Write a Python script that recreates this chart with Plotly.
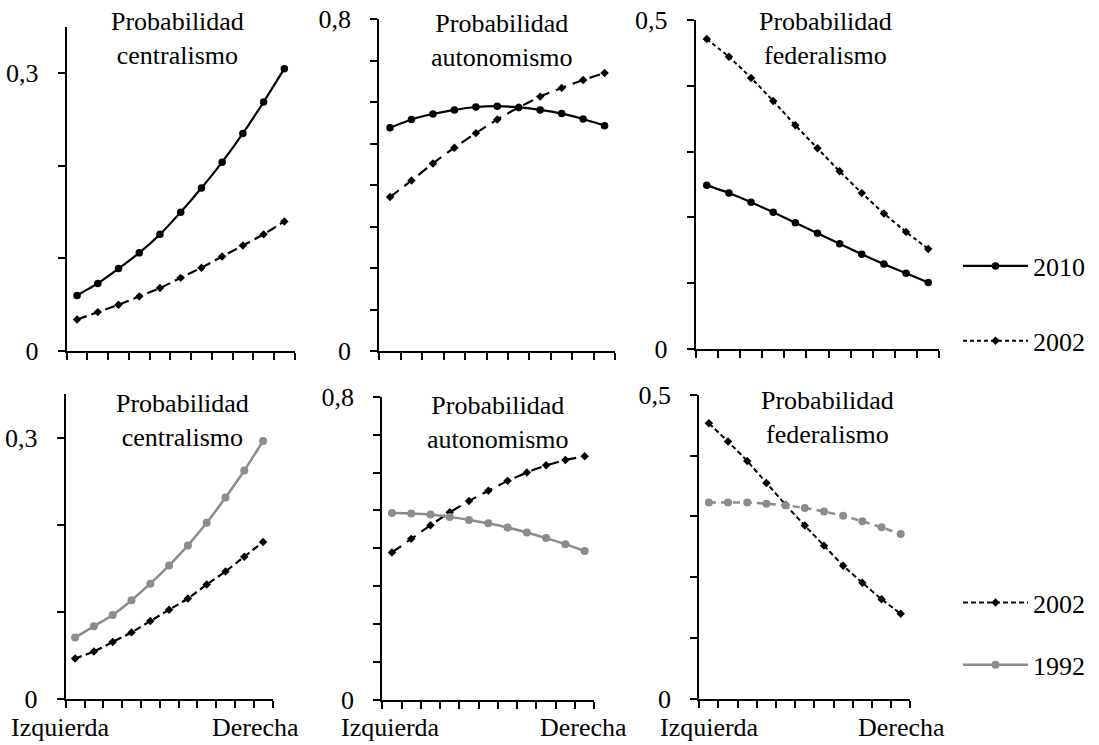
import plotly.graph_objects as go

# Ideological scale positions (11 categories, Izquierda -> Derecha)
escala = list(range(11))
extremos = ["Izquierda", "Derecha"]

titulos = ["Probabilidad<br>centralismo", "Probabilidad<br>autonomismo", "Probabilidad<br>federalismo"]

# Top row: 2010 vs 2002
cen_2010 = [0.060, 0.073, 0.089, 0.106, 0.126, 0.150, 0.176, 0.204, 0.235, 0.269, 0.305]
cen_2002a = [0.034, 0.042, 0.050, 0.059, 0.068, 0.079, 0.090, 0.102, 0.114, 0.126, 0.140]
aut_2010 = [0.538, 0.558, 0.571, 0.581, 0.588, 0.590, 0.587, 0.581, 0.572, 0.559, 0.543]
aut_2002a = [0.371, 0.411, 0.452, 0.490, 0.525, 0.558, 0.587, 0.613, 0.634, 0.653, 0.670]
fed_2010 = [0.249, 0.237, 0.223, 0.208, 0.192, 0.176, 0.160, 0.144, 0.129, 0.115, 0.101]
fed_2002a = [0.471, 0.444, 0.412, 0.377, 0.340, 0.305, 0.270, 0.237, 0.206, 0.178, 0.152]

# Bottom row: 2002 vs 1992
cen_2002b = [0.046, 0.054, 0.065, 0.076, 0.089, 0.102, 0.115, 0.131, 0.146, 0.163, 0.180]
cen_1992 = [0.070, 0.083, 0.096, 0.113, 0.132, 0.153, 0.176, 0.202, 0.231, 0.262, 0.296]
aut_2002b = [0.389, 0.425, 0.461, 0.495, 0.525, 0.552, 0.578, 0.600, 0.619, 0.633, 0.643]
aut_1992 = [0.493, 0.492, 0.489, 0.483, 0.475, 0.466, 0.455, 0.442, 0.427, 0.411, 0.393]
fed_2002b = [0.453, 0.423, 0.391, 0.355, 0.319, 0.285, 0.252, 0.219, 0.191, 0.164, 0.140]
fed_1992 = [0.323, 0.323, 0.323, 0.321, 0.318, 0.314, 0.308, 0.301, 0.292, 0.282, 0.271]

# Axis settings per panel
y_max = [0.35, 0.8, 0.5, 0.35, 0.8, 0.5]
y_ticks = [[0, 0.1, 0.2, 0.3],
           [0, 0.1, 0.2, 0.3, 0.4, 0.5, 0.6, 0.7, 0.8],
           [0, 0.1, 0.2, 0.3, 0.4, 0.5]]
y_labels = [["0", "", "", "0,3"],
            ["0", "", "", "", "", "", "", "", "0,8"],
            ["0", "", "", "", "", "0,5"]]

W, H = 1099, 745
# pixel boxes: (left, right, bottom, top)
boxes = [(66.7, 294.7, 351, 27), (379.3, 615.3, 351, 19), (695.7, 939.3, 349, 20),
         (65.7, 272.5, 698.5, 394), (382.3, 594.3, 700, 396.7), (699.3, 910.3, 699, 394.7)]

BLACK = "#000000"
GRAY = "#8c8c8c"
FONT = "Liberation Serif"
FS = 26

fig = go.Figure()

def add(panel, y, name, color, dash, symbol, msize, width, legend=None, show=False, rank=1000):
    ax = "" if panel == 1 else str(panel)
    fig.add_trace(go.Scatter(
        x=escala, y=y, name=name, mode="lines+markers",
        line=dict(color=color, width=width, dash=dash, shape="spline", smoothing=0.5),
        marker=dict(color=color, size=msize, symbol=symbol),
        xaxis="x" + ax, yaxis="y" + ax,
        showlegend=show, legend=legend or "legend", legendgroup=name + (legend or ""),
        legendrank=rank, hoverinfo="x+y+name"))

# Top row
add(1, cen_2010, "2010", BLACK, "solid", "circle", 7.5, 2.2)
add(1, cen_2002a, "2002", BLACK, "10px,5px", "diamond", 6.5, 2.2)
add(2, aut_2010, "2010", BLACK, "solid", "circle", 7.5, 2.2)
add(2, aut_2002a, "2002", BLACK, "11px,7px", "diamond", 6.5, 2.2)
add(3, fed_2010, "2010", BLACK, "solid", "circle", 7.5, 2.2, "legend", True, 1)
add(3, fed_2002a, "2002", BLACK, "4px,3px", "diamond", 6.5, 2.0, "legend", True, 2)
# Bottom row
add(4, cen_2002b, "2002", BLACK, "7px,4px", "diamond", 6.5, 2.2)
add(4, cen_1992, "1992", GRAY, "solid", "circle", 8, 2.5, "legend2", True, 2)
add(5, aut_2002b, "2002", BLACK, "11px,7px", "diamond", 6.5, 2.2)
add(5, aut_1992, "1992", GRAY, "solid", "circle", 8, 2.5)
add(6, fed_2002b, "2002", BLACK, "5px,3px", "diamond", 6.5, 2.0, "legend2", True, 1)
add(6, fed_1992, "1992", GRAY, "7px,5px", "circle", 8, 2.5)

fig.update_layout(width=W, height=H, margin=dict(l=0, r=0, t=0, b=0),
                  template="none",
                  paper_bgcolor="white", plot_bgcolor="white",
                  font=dict(family=FONT, size=FS, color=BLACK))

annotations = []
for i, (l, r, b, t) in enumerate(boxes):
    n = i + 1
    ax = "" if n == 1 else str(n)
    kind = i % 3
    fig.update_layout({
        "xaxis" + ax: dict(
            domain=[l / W, r / W], range=[-0.5, 10.5],
            tickvals=[v - 0.5 for v in escala] + [escala[-1] + 0.5],
            showticklabels=False, ticks="outside", ticklen=7, tickwidth=2, tickcolor=BLACK,
            showline=True, linewidth=2, linecolor=BLACK, showgrid=False, zeroline=False,
            anchor="y" + ax, fixedrange=True),
        "yaxis" + ax: dict(
            domain=[1 - b / H, 1 - t / H], range=[0, y_max[i]],
            tickvals=y_ticks[kind], ticktext=y_labels[kind],
            ticks="outside", ticklen=7, tickwidth=2, tickcolor=BLACK,
            ticklabelstandoff=14,
            tickfont=dict(family=FONT, size=FS, color=BLACK),
            showline=True, linewidth=2, linecolor=BLACK, showgrid=False, zeroline=False,
            anchor="x" + ax, fixedrange=True)})

# Panel titles (pixel centers)
title_pos = [(177.5, 39), (501.7, 40), (825.8, 38.3), (182.5, 420.8), (498.3, 422.5), (827.5, 417.5)]
for i, (px, py) in enumerate(title_pos):
    annotations.append(dict(text=titulos[i % 3], x=px / W, y=1 - py / H, xref="paper", yref="paper",
                            xanchor="center", yanchor="middle", showarrow=False,
                            font=dict(family=FONT, size=FS, color=BLACK)))

# Scale end labels below bottom panels
end_pos = [(60.8, 255.0), (390.8, 583.3), (709.0, 901.7)]
for (izq, der) in end_pos:
    for px, txt in zip((izq, der), extremos):
        annotations.append(dict(text=txt, x=px / W, y=1 - 727.5 / H, xref="paper", yref="paper",
                                xanchor="center", yanchor="middle", showarrow=False,
                                font=dict(family=FONT, size=FS, color=BLACK)))

fig.update_layout(
    annotations=annotations,
    legend=dict(x=958 / W, y=1 - 242.5 / H, xanchor="left", yanchor="top",
                font=dict(family=FONT, size=FS, color=BLACK), bgcolor="rgba(0,0,0,0)",
                tracegroupgap=38, traceorder="grouped", itemwidth=65),
    legend2=dict(x=958 / W, y=1 - 579 / H, xanchor="left", yanchor="top",
                 font=dict(family=FONT, size=FS, color=BLACK), bgcolor="rgba(0,0,0,0)",
                 tracegroupgap=25.5, traceorder="grouped", itemwidth=65))

fig.write_html("out.html")
